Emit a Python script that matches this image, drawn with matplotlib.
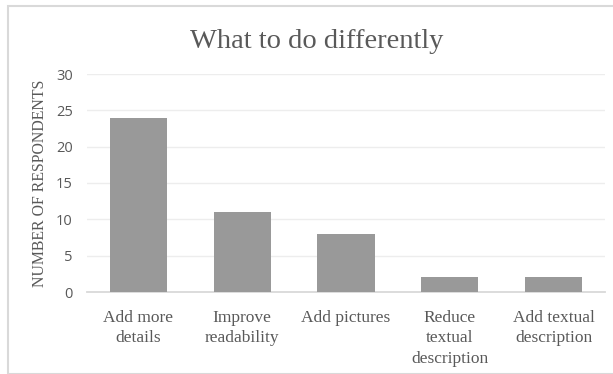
import matplotlib
matplotlib.use("Agg")
import matplotlib.pyplot as plt
from matplotlib.patches import Rectangle

categories = ["Add more\ndetails", "Improve\nreadability", "Add pictures",
              "Reduce\ntextual\ndescription", "Add textual\ndescription"]
values = [24, 11, 8, 2, 2]
yticks = [0, 5, 10, 15, 20, 25, 30]

fig = plt.figure(figsize=(6.13, 3.74), dpi=100)
fig.patches.append(Rectangle((8/613, 0), 1.2, 1 - 6/374, transform=fig.transFigure,
                             fill=False, edgecolor="#d9d9d9", linewidth=1.5))
ax = fig.add_axes([86.6/613, 1 - 292/374, 518.8/613, 218/374])

x = range(len(categories))
ax.bar(x, values, width=0.55, color="#999999", zorder=3)
ax.set_xlim(-0.5, len(categories) - 0.5)
ax.set_ylim(0, 30)
ax.set_yticks(yticks)
ax.set_yticklabels([str(t) for t in yticks], fontfamily="Open Sans", fontsize=10.5, color="#595959")
ax.set_xticks(list(x))
ax.set_xticklabels(categories, fontfamily="Liberation Serif", fontsize=12.5, color="#595959",
                   linespacing=1.36)
ax.grid(axis="y", color="#ededed", linewidth=1.0, zorder=0)
for s in ["top", "right", "left"]:
    ax.spines[s].set_visible(False)
ax.spines["bottom"].set_color("#d9d9d9")
ax.spines["bottom"].set_linewidth(1.3)
ax.tick_params(axis="both", length=0)
ax.tick_params(axis="x", pad=13)
ax.tick_params(axis="y", pad=10)
ax.set_ylabel("NUMBER OF RESPONDENTS", fontfamily="Liberation Serif", fontsize=11.4,
              color="#595959", labelpad=6)
fig.text(317/613, 1 - 41/374, "What to do differently", fontfamily="Liberation Serif",
         fontsize=20.5, color="#595959", ha="center", va="center")
fig.savefig("out.png", dpi=100)
